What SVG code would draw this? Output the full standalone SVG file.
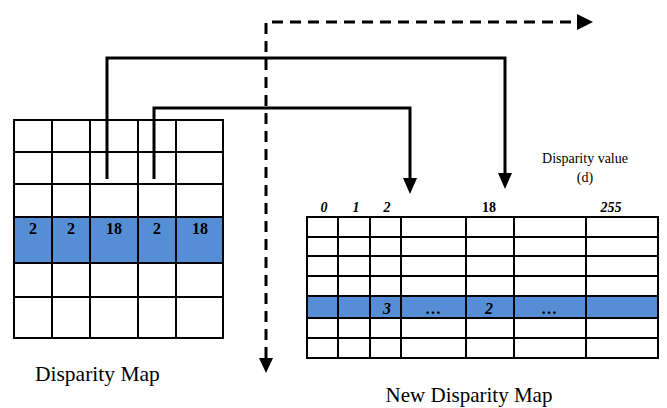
<svg xmlns="http://www.w3.org/2000/svg" width="667" height="408" viewBox="0 0 667 408">
<style>
.grid line{stroke:#000;stroke-width:2}
.blue{fill:#558ed5}
.t{font-family:"Liberation Serif","Times New Roman",serif;fill:#000}
.b{font-weight:bold;text-anchor:middle}
.bi{font-weight:bold;font-style:italic;text-anchor:middle}
.conn{fill:none;stroke:#000;stroke-width:3}
.dash{fill:none;stroke:#000;stroke-width:3;stroke-dasharray:11 7}
</style>
<rect width="667" height="408" fill="#fff"/>
<g id="disparity-map">
<rect class="blue" x="14" y="217" width="209" height="46"/>
<g class="grid">
<line x1="14" y1="120" x2="14" y2="338"/><line x1="52" y1="120" x2="52" y2="338"/><line x1="90" y1="120" x2="90" y2="338"/><line x1="138" y1="120" x2="138" y2="338"/><line x1="176" y1="120" x2="176" y2="338"/><line x1="223" y1="120" x2="223" y2="338"/>
<line x1="13" y1="120" x2="224" y2="120"/><line x1="13" y1="152" x2="224" y2="152"/><line x1="13" y1="184" x2="224" y2="184"/><line x1="13" y1="217" x2="224" y2="217"/><line x1="13" y1="263" x2="224" y2="263"/><line x1="13" y1="297" x2="224" y2="297"/><line x1="13" y1="338" x2="224" y2="338"/>
</g>
<g class="t b" font-size="16">
<text x="33" y="234">2</text><text x="71" y="234">2</text><text x="114" y="234">18</text><text x="157" y="234">2</text><text x="200" y="234">18</text>
</g>
<text class="t" x="35" y="381" font-size="21.5">Disparity Map</text>
</g>
<g id="new-disparity-map">
<rect class="blue" x="307" y="296" width="351" height="22"/>
<g class="grid">
<line x1="307" y1="217" x2="307" y2="358"/><line x1="338" y1="217" x2="338" y2="358"/><line x1="370" y1="217" x2="370" y2="358"/><line x1="401" y1="217" x2="401" y2="358"/><line x1="466" y1="217" x2="466" y2="358"/><line x1="514" y1="217" x2="514" y2="358"/><line x1="586" y1="217" x2="586" y2="358"/><line x1="658" y1="217" x2="658" y2="358"/>
<line x1="306" y1="217" x2="659" y2="217"/><line x1="306" y1="237" x2="659" y2="237"/><line x1="306" y1="256" x2="659" y2="256"/><line x1="306" y1="276" x2="659" y2="276"/><line x1="306" y1="296" x2="659" y2="296"/><line x1="306" y1="318" x2="659" y2="318"/><line x1="306" y1="338" x2="659" y2="338"/><line x1="306" y1="358" x2="659" y2="358"/>
</g>
<g class="t" font-size="14">
<text class="bi" x="324" y="212">0</text><text class="bi" x="356" y="212">1</text><text class="bi" x="387" y="212">2</text><text class="b" x="489" y="212">18</text><text class="bi" x="611" y="212">255</text>
</g>
<g class="t" font-size="16">
<text class="bi" x="387" y="314">3</text><text class="b" x="433" y="314">…</text><text class="bi" x="489" y="314">2</text><text class="b" x="549" y="314">…</text>
</g>
<text class="t" x="469" y="402" font-size="21" text-anchor="middle">New Disparity Map</text>
<text class="t" x="585" y="163" font-size="14" text-anchor="middle">Disparity value</text>
<text class="t" x="585" y="182" font-size="14" text-anchor="middle">(d)</text>
</g>
<g id="connectors">
<path class="conn" d="M107,179 V58 H505 V175"/>
<polygon points="498,173 512,173 505,189"/>
<path class="conn" d="M154,179 V108 H410 V179"/>
<polygon points="403,178 417,178 410,194"/>
<path class="dash" d="M266,358 V22 H578"/>
<polygon points="577,14 577,30 593,22"/>
<polygon points="259,358 273,358 266,373"/>
</g>
</svg>
